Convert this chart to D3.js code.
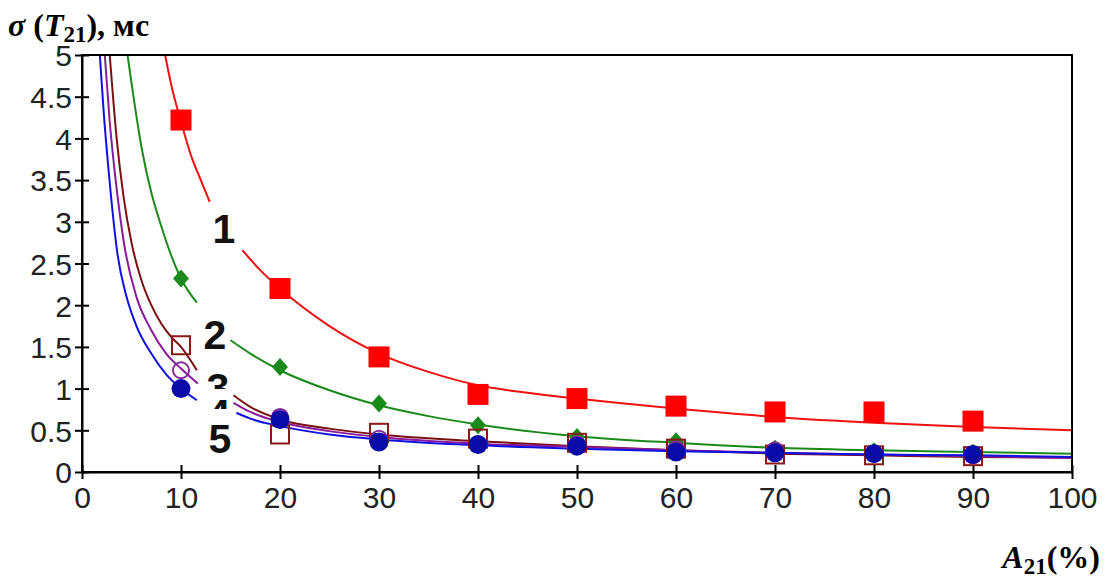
<!DOCTYPE html>
<html><head><meta charset="utf-8">
<script src="https://cdn.jsdelivr.net/npm/d3@7"></script>
<style>
html,body{margin:0;padding:0;background:#fff;}
svg{display:block;}
.tick text{font-family:"Liberation Sans",Arial,sans-serif;font-size:30px;fill:#222;}
</style></head>
<body>
<svg id="chart" width="1107" height="583"></svg>
<script>
// ---- data ----
const xCats = [10, 20, 30, 40, 50, 60, 70, 80, 90];
const xTicks = [0, 10, 20, 30, 40, 50, 60, 70, 80, 90, 100];
const yTicks = [0, 0.5, 1, 1.5, 2, 2.5, 3, 3.5, 4, 4.5, 5];
const yTickLabels = ["0", "0.5", "1", "1.5", "2", "2.5", "3", "3.5", "4", "4.5", "5"];

const pts1 = [4.22, 2.2, 1.38, 0.93, 0.88, 0.79, 0.72, 0.72, 0.61];
const pts2 = [2.32, 1.26, 0.82, 0.56, 0.42, 0.37, 0.28, 0.25, 0.23];
const pts3 = [1.52, 0.45, 0.47, 0.40, 0.35, 0.28, 0.21, 0.20, 0.19];
const pts4 = [1.22, 0.66, 0.40, 0.33, 0.33, 0.27, 0.26, 0.22, 0.20];
const pts5 = [1.00, 0.63, 0.36, 0.33, 0.31, 0.24, 0.23, 0.22, 0.21];

// fitted curves (null = break for label)
const curve1 = [[8.4,5],[9,4.65],[10,4.2],[11,3.8],[12,3.5],[12.9,3.24],null,
  [16.2,2.66],[18,2.42],[20,2.2],[25,1.75],[30,1.42],[35,1.2],[40,1.04],[45,0.95],[50,0.88],[60,0.76],[70,0.66],[80,0.59],[90,0.54],[100,0.5]];
const curve2 = [[4.6,5],[5.2,4.5],[6,3.9],[7,3.35],[8,2.95],[9,2.6],[10,2.32],[11.6,2.03],null,
  [15,1.58],[17,1.42],[20,1.22],[25,0.98],[30,0.8],[35,0.67],[40,0.57],[50,0.43],[60,0.35],[70,0.29],[80,0.26],[90,0.24],[100,0.22]];
const curve3 = [[2.8,5],[3.5,4.0],[4.2,3.3],[5,2.75],[6,2.3],[7,2.0],[8,1.78],[9,1.62],[10,1.5],[11.6,1.22],null,
  [15.3,0.92],[17,0.78],[20,0.63],[25,0.52],[30,0.45],[40,0.37],[50,0.31],[60,0.26],[70,0.22],[80,0.2],[90,0.18],[100,0.17]];
const curve4 = [[2.3,5],[2.8,4.2],[3.4,3.5],[4.3,2.7],[5.5,2.1],[7,1.7],[8.5,1.42],[10,1.24],[11.7,1.06],null,
  [15.3,0.83],[17,0.72],[20,0.6],[25,0.49],[30,0.42],[40,0.34],[50,0.3],[60,0.26],[70,0.23],[80,0.21],[90,0.19],[100,0.17]];
const curve5 = [[1.8,5],[2.2,4.3],[2.7,3.6],[3.6,2.6],[4.5,2.1],[5.5,1.75],[7,1.42],[8.5,1.17],[10,1.0],[11.6,0.86],null,
  [15.6,0.71],[17,0.64],[20,0.55],[25,0.45],[30,0.39],[40,0.32],[50,0.28],[60,0.25],[70,0.23],[80,0.21],[90,0.2],[100,0.18]];

const curveLabels = ["1", "2", "3", "4", "5"];

// ---- drawing ----
const svg = d3.select("#chart");
const x = d3.scaleLinear().domain([0, 100]).range([82, 1072]);
const y = d3.scaleLinear().domain([0, 5]).range([472, 55]);

const defs = svg.append("defs");
defs.append("clipPath").attr("id", "plot")
  .append("rect").attr("x", 82).attr("y", 55).attr("width", 990).attr("height", 417);

const line = d3.line().defined(d => d !== null)
  .x(d => x(d[0])).y(d => y(d[1])).curve(d3.curveMonotoneX);

const series = [
  {curve: curve1, pts: pts1, color: "#f01010", mcolor: "#ff0000", marker: "sq"},
  {curve: curve2, pts: pts2, color: "#1a8a1a", mcolor: "#1a8a1a", marker: "dia"},
  {curve: curve3, pts: pts3, color: "#7a1010", mcolor: "#8a1a1a", marker: "osq"},
  {curve: curve4, pts: pts4, color: "#8a1a9a", mcolor: "#8a2a9a", marker: "ocirc"},
  {curve: curve5, pts: pts5, color: "#1010e0", mcolor: "#0a0aa8", marker: "circ"}
];

const g = svg.append("g").attr("clip-path", "url(#plot)");
series.forEach(s => {
  g.append("path").attr("d", line(s.curve)).attr("fill", "none")
    .attr("stroke", s.color).attr("stroke-width", 2);
});

// axes frame
svg.append("rect").attr("x", 82).attr("y", 55).attr("width", 990).attr("height", 417)
  .attr("fill", "none").attr("stroke", "#000").attr("stroke-width", 2);

const yAxis = d3.axisLeft(y).tickValues(yTicks).tickFormat((d, i) => yTickLabels[i])
  .tickSizeInner(7).tickSizeOuter(0).tickPadding(8);
const ya = svg.append("g").attr("transform", "translate(82,0)").call(yAxis);
ya.select(".domain").attr("stroke", "#000").attr("stroke-width", 2);
ya.selectAll(".tick line").attr("stroke", "#000").attr("stroke-width", 2).attr("x1", 7);
ya.selectAll(".tick text").attr("dy", "0.36em").attr("x", -10);

const xAxis = d3.axisBottom(x).tickValues(xTicks).tickFormat(d3.format("d"))
  .tickSizeInner(7).tickSizeOuter(0).tickPadding(6);
const xa = svg.append("g").attr("transform", "translate(0,472)").call(xAxis);
xa.select(".domain").attr("stroke", "#000").attr("stroke-width", 2);
xa.selectAll(".tick line").attr("stroke", "#000").attr("stroke-width", 2).attr("y1", -7);
xa.selectAll(".tick text").attr("dy", "0.75em");

// markers
const mg = svg.append("g");
series.forEach(s => {
  const sel = mg.append("g").selectAll("g").data(s.pts).join("g")
    .attr("transform", (d, i) => `translate(${x(xCats[i])},${y(d)})`);
  if (s.marker === "sq") {
    sel.append("rect").attr("x", -10.5).attr("y", -10.5).attr("width", 21).attr("height", 21).attr("fill", s.mcolor);
  } else if (s.marker === "dia") {
    sel.append("path").attr("d", "M0,-9L8,0L0,9L-8,0Z").attr("fill", s.mcolor);
  } else if (s.marker === "osq") {
    sel.append("rect").attr("x", -9).attr("y", -9).attr("width", 18).attr("height", 18)
      .attr("fill", "none").attr("stroke", s.mcolor).attr("stroke-width", 2);
  } else if (s.marker === "ocirc") {
    sel.append("circle").attr("r", 8).attr("fill", "none").attr("stroke", s.mcolor).attr("stroke-width", 2);
  } else {
    sel.append("circle").attr("r", 9.5).attr("fill", s.mcolor);
  }
});

// curve labels (3 and 4 are partly hidden in the original)
const labelPos = [[224, 243], [215, 349], [218, 402], [219, 428], [220, 453]];
const labelClip = [null, null, [368, 389], [396, 409], null];
curveLabels.forEach((t, i) => {
  const tx = svg.append("text").attr("x", labelPos[i][0]).attr("y", labelPos[i][1])
    .attr("text-anchor", "middle").attr("font-family", "Liberation Sans, Arial, sans-serif")
    .attr("font-weight", "bold").attr("font-size", 41).attr("fill", "#111").text(t);
  if (labelClip[i]) {
    defs.append("clipPath").attr("id", "lc" + i).append("rect")
      .attr("x", 190).attr("y", labelClip[i][0]).attr("width", 60).attr("height", labelClip[i][1] - labelClip[i][0]);
    tx.attr("clip-path", `url(#lc${i})`);
  }
});

// titles
const serif = "Liberation Serif, 'DejaVu Serif', serif";
const t1 = svg.append("text").attr("x", 8).attr("y", 36).attr("font-family", serif)
  .attr("font-weight", "bold").attr("font-size", 32).attr("fill", "#000");
t1.append("tspan").attr("font-style", "italic").text("σ");
t1.append("tspan").text(" (");
t1.append("tspan").attr("font-style", "italic").text("T");
t1.append("tspan").attr("font-size", 23).attr("dy", 6).text("21");
t1.append("tspan").attr("dy", -6).text("), мс");

const t2 = svg.append("text").attr("x", 1100).attr("y", 568).attr("text-anchor", "end")
  .attr("font-family", serif).attr("font-weight", "bold").attr("font-size", 32).attr("fill", "#000");
t2.append("tspan").attr("font-style", "italic").text("A");
t2.append("tspan").attr("font-size", 23).attr("dy", 6).text("21");
t2.append("tspan").attr("dy", -6).text("(%)");
</script>
</body></html>
